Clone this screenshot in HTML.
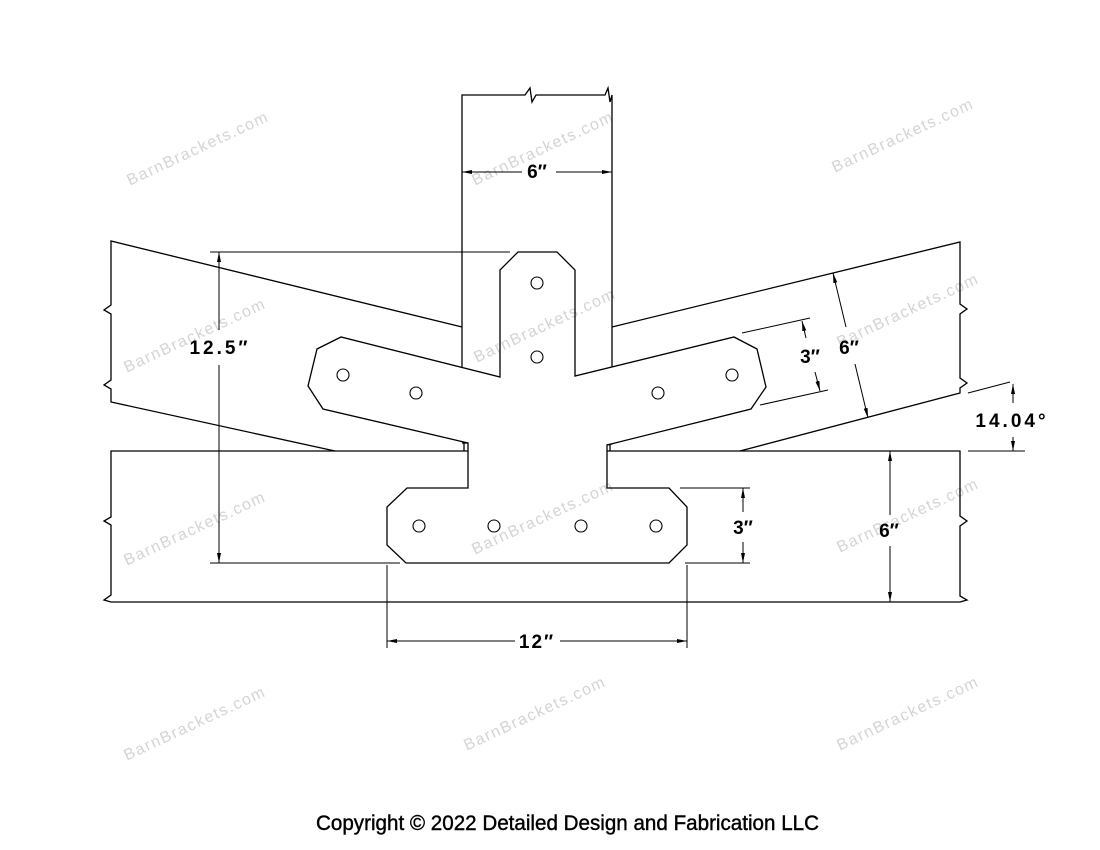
<!DOCTYPE html>
<html><head><meta charset="utf-8"><style>
html,body{margin:0;padding:0;background:#fff;}
svg{display:block;}
.l{fill:none;stroke:#000;stroke-width:1.3;}
.t{font-family:"Liberation Sans",sans-serif;font-weight:bold;font-size:19px;fill:#000;}
.w{font-family:"Liberation Sans",sans-serif;font-size:16px;fill:#d4d4d4;letter-spacing:1.5px;}
</style></head><body>
<svg width="1100" height="850" viewBox="0 0 1100 850" xmlns="http://www.w3.org/2000/svg">
<defs>
<marker id="a" viewBox="0 0 10 4" refX="10" refY="2" markerWidth="10" markerHeight="4" orient="auto-start-reverse" markerUnits="userSpaceOnUse"><path d="M0,0 L10,2 L0,4z" fill="#000"/></marker>
</defs>
<g class="w">
<text transform="translate(200,153) rotate(-25)" text-anchor="middle">BarnBrackets.com</text>
<text transform="translate(545,153) rotate(-25)" text-anchor="middle">BarnBrackets.com</text>
<text transform="translate(905,140) rotate(-25)" text-anchor="middle">BarnBrackets.com</text>
<text transform="translate(197,340) rotate(-25)" text-anchor="middle">BarnBrackets.com</text>
<text transform="translate(547,330) rotate(-25)" text-anchor="middle">BarnBrackets.com</text>
<text transform="translate(910,315) rotate(-25)" text-anchor="middle">BarnBrackets.com</text>
<text transform="translate(197,533) rotate(-25)" text-anchor="middle">BarnBrackets.com</text>
<text transform="translate(545,522) rotate(-25)" text-anchor="middle">BarnBrackets.com</text>
<text transform="translate(910,520) rotate(-25)" text-anchor="middle">BarnBrackets.com</text>
<text transform="translate(197,728) rotate(-25)" text-anchor="middle">BarnBrackets.com</text>
<text transform="translate(537,718) rotate(-25)" text-anchor="middle">BarnBrackets.com</text>
<text transform="translate(910,718) rotate(-25)" text-anchor="middle">BarnBrackets.com</text>
</g>
<g class="l">
<path d="M462,367 L462,95 L525,95 L530,88 L532,102 L536,95 L605,95 L608,88 L610,102 L612,95 L612,367"/>
<path d="M462,327 L111,241 L111,305 L104,310 L111,314 L111,380 L104,385 L111,389 L111,402 L335,451"/>
<path d="M612,327 L960,242 L960,304 L967,309 L960,314 L960,378 L967,383 L960,388 L960,393 L740,451"/>
<path d="M468,451 L111,451 L111,517 L104,521 L111,525 L111,595 L104,600 L111,602 L960,602"/>
<path d="M607,451 L960,451 L960,516 L967,521 L960,526 L960,596 L967,600 L960,602"/>
<path d="M500,377 L500,270 L518,252 L557,252 L575,270 L575,376 L734,337 L757,349 L766,387 L751,409 L607,445 L607,488 L669,488 L687,507 L687,545 L669,563 L406,563 L387,545 L387,507 L407,488 L468,488 L468,443 L323,409 L308,386 L317,349 L341,337 Z"/>
<path d="M462,443 L468,443 M464,443 L464,451 M607,445 L612,444 M610,445 L610,451"/>
</g>
<g fill="none" stroke="#000" stroke-width="1.1">
<circle cx="537" cy="283" r="6"/><circle cx="537" cy="357" r="6"/>
<circle cx="343" cy="375" r="6"/><circle cx="416" cy="393" r="6"/>
<circle cx="658" cy="393" r="6"/><circle cx="732" cy="375" r="6"/>
<circle cx="419" cy="526" r="6"/><circle cx="494" cy="526" r="6"/>
<circle cx="581" cy="526" r="6"/><circle cx="656" cy="526" r="6"/>
</g>
<g fill="none" stroke="#000" stroke-width="1">
<path d="M522,172 L462,172" marker-end="url(#a)"/><path d="M556,172 L612,172" marker-end="url(#a)"/>
<path d="M210,252 L510,252 M210,563 L400,563"/>
<path d="M219,330 L219,252" marker-end="url(#a)"/><path d="M219,365 L219,563" marker-end="url(#a)"/>
<path d="M387,565 L387,648 M687,565 L687,648"/>
<path d="M515,641 L387,641" marker-end="url(#a)"/><path d="M560,641 L687,641" marker-end="url(#a)"/>
<path d="M680,488 L750,488 M685,563 L750,563"/>
<path d="M743,512 L743,488" marker-end="url(#a)"/><path d="M743,542 L743,563" marker-end="url(#a)"/>
<path d="M890,515 L890,451" marker-end="url(#a)"/><path d="M890,546 L890,602" marker-end="url(#a)"/>
<path d="M968,393 L1010,382 M968,451 L1025,451"/>
<path d="M1013,403 L1013,384" marker-end="url(#a)"/><path d="M1013,437 L1013,451" marker-end="url(#a)"/>
<path d="M846,327 L833,273" marker-end="url(#a)"/><path d="M855,364 L868,418" marker-end="url(#a)"/>
<path d="M742,333 L810,318 M760,405 L828,390"/>
<path d="M806,338 L802,321" marker-end="url(#a)"/><path d="M815,372 L820,391" marker-end="url(#a)"/>
</g>
<g class="t">
<text x="537" y="178" text-anchor="middle">6″</text>
<text x="220" y="354" text-anchor="middle" letter-spacing="3">12.5″</text>
<text x="537" y="648" text-anchor="middle" letter-spacing="2">12″</text>
<text x="743" y="534" text-anchor="middle">3″</text>
<text x="889" y="537" text-anchor="middle">6″</text>
<text x="1012" y="427" text-anchor="middle" letter-spacing="3">14.04°</text>
<text x="849" y="354" text-anchor="middle">6″</text>
<text x="810" y="363" text-anchor="middle">3″</text>
</g>
<text x="316" y="830" textLength="503" lengthAdjust="spacingAndGlyphs" style="font-family:'Liberation Sans',sans-serif;font-size:21px;fill:#000;stroke:#000;stroke-width:0.4;">Copyright © 2022 Detailed Design and Fabrication LLC</text>
</svg>
</body></html>
